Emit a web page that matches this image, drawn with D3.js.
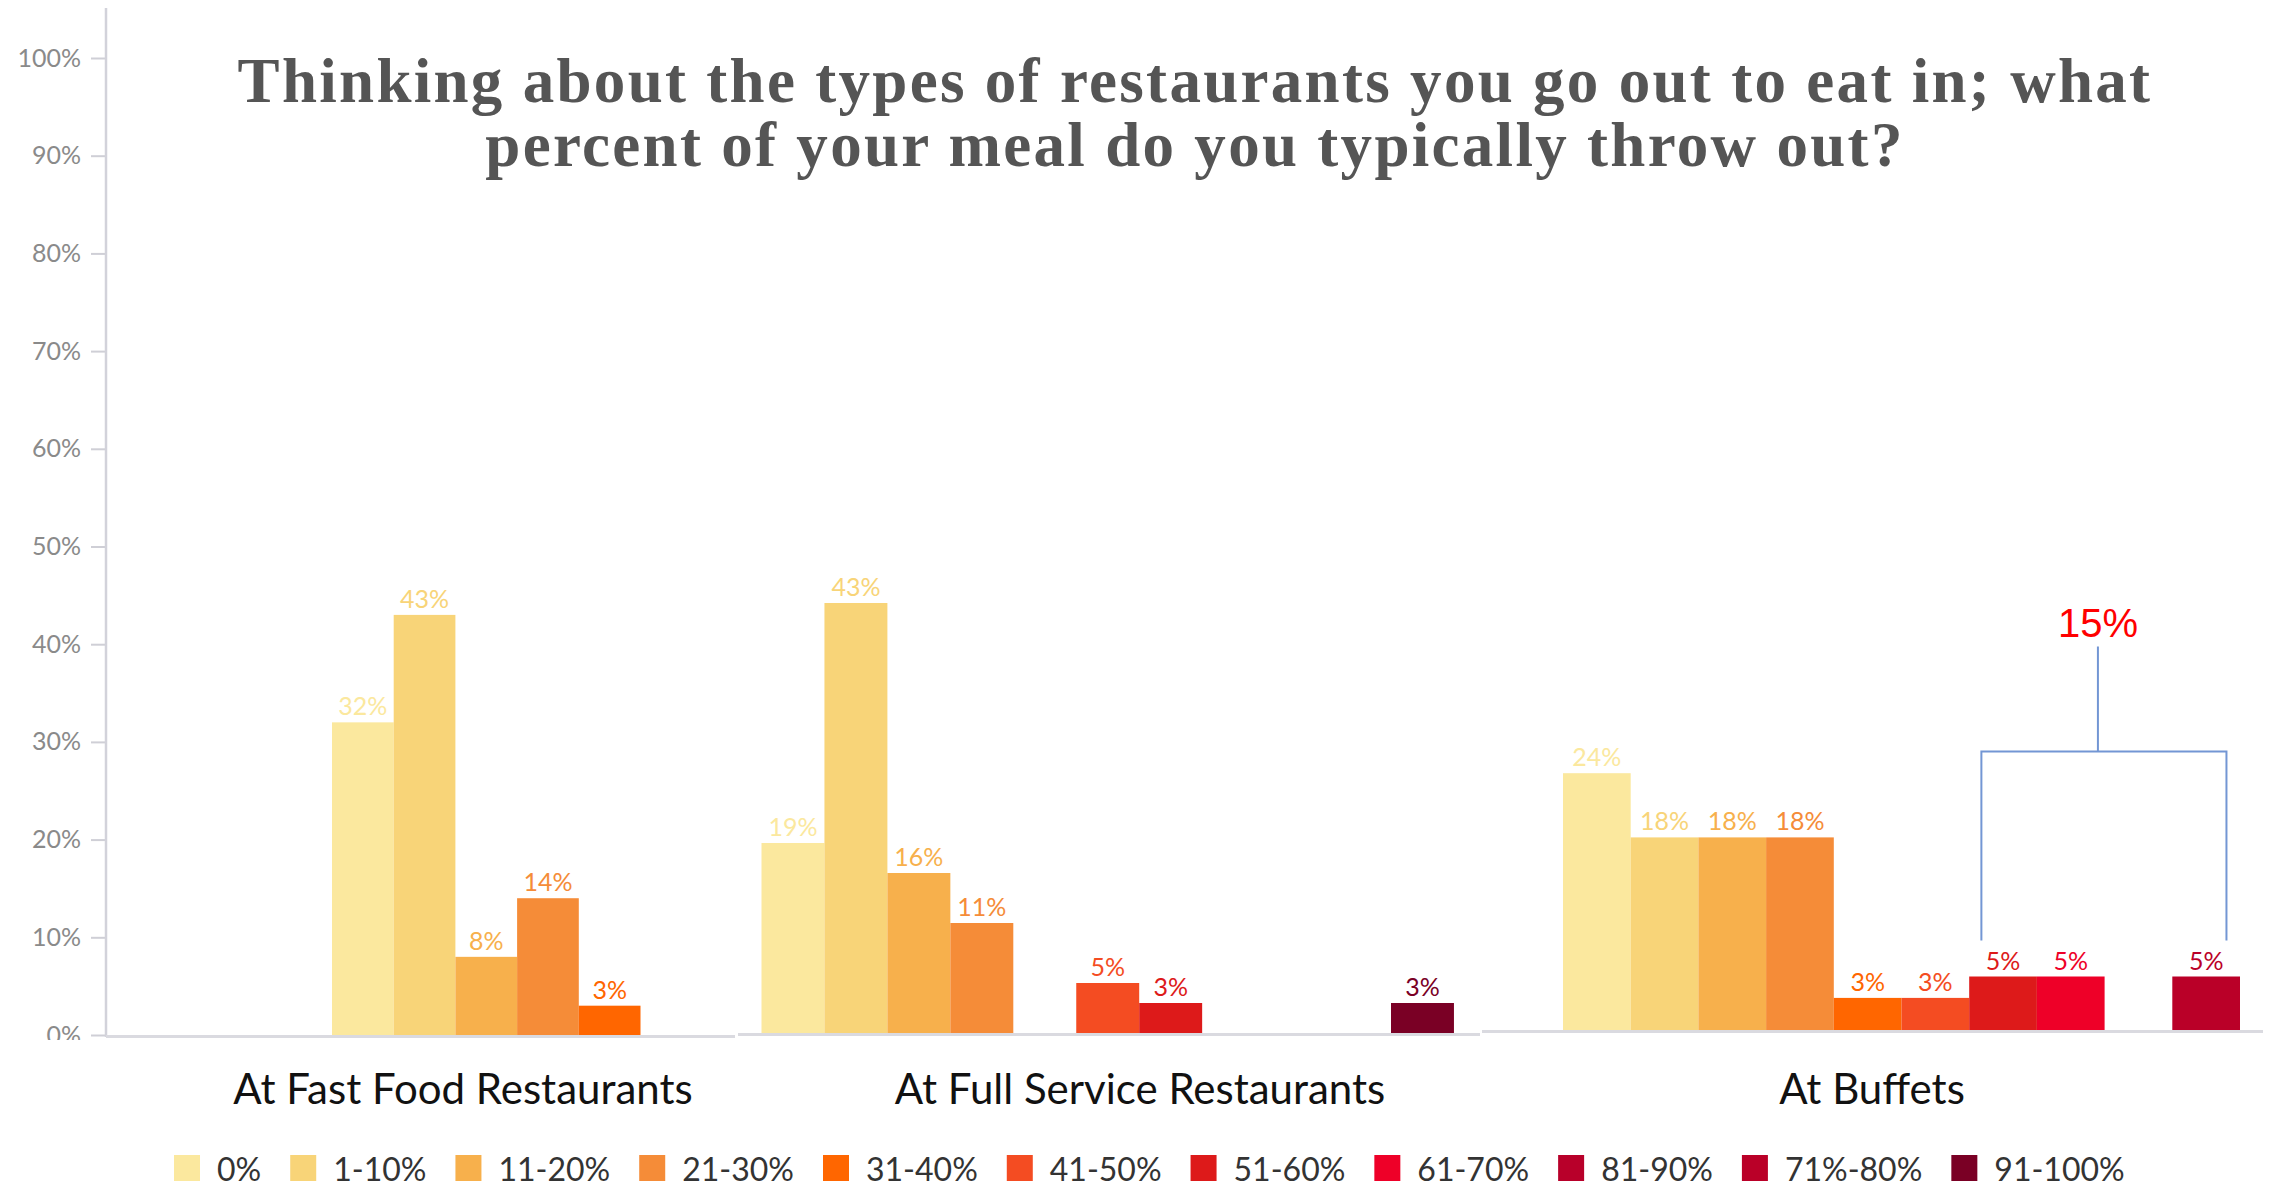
<!DOCTYPE html>
<html>
<head>
<meta charset="utf-8">
<script src="https://cdn.jsdelivr.net/npm/d3@7"></script>
<style>
  html, body { margin: 0; padding: 0; background: #fff; }
  svg { display: block; }
</style>
</head>
<body>
<svg id="chart" width="2270" height="1187"></svg>
<script>
// Survey: share of a restaurant meal that is typically thrown out
const titleLines = [
  "Thinking about the types of restaurants you go out to eat in; what",
  "percent of your meal do you typically throw out?"
];
const categories = ["At Fast Food Restaurants", "At Full Service Restaurants", "At Buffets"];
const series = ["0%", "1-10%", "11-20%", "21-30%", "31-40%", "41-50%", "51-60%", "61-70%", "81-90%", "71%-80%", "91-100%"];
const seriesColors = ["#FBE89E", "#F8D478", "#F7B04C", "#F58C38", "#FF6600", "#F44C22", "#DD1A1A", "#EE0028", "#B8002A", "#BA0028", "#7A0025"];
const fastFood    = [32, 43,  8, 14, 3, 0, 0, 0, 0, 0, 0];
const fullService = [19, 43, 16, 11, 0, 5, 3, 0, 0, 0, 3];
const buffets     = [24, 18, 18, 18, 3, 3, 5, 5, 0, 5, 0];
const yTicks = [0, 10, 20, 30, 40, 50, 60, 70, 80, 90, 100];
// Buffet answers bracketed together in the callout
const highlighted = ["51-60%", "61-70%", "71%-80%"];

const values = [fastFood, fullService, buffets];

// Each restaurant type sits in its own panel with its own baseline and band layout
const panels = [
  { x0: 332,   step: 61.7,  base: 1035, top: 58,  line: [106, 735],   labelX: 463 },
  { x0: 761.5, step: 62.95, base: 1033, top: 33,  line: [738, 1480],  labelX: 1140 },
  { x0: 1563,  step: 67.7,  base: 1030, top: -40, line: [1482, 2263], labelX: 1872 }
];

const svg = d3.select("#chart");
const sansFont = "Lato, 'Open Sans', sans-serif";
const color = d3.scaleOrdinal().domain(series).range(seriesColors);

// Title
svg.append("g")
  .selectAll("text")
  .data(titleLines)
  .join("text")
  .attr("x", 1195)
  .attr("y", (d, i) => 102 + i * 64)
  .attr("text-anchor", "middle")
  .attr("font-family", "'Liberation Serif', 'Times New Roman', serif")
  .attr("font-weight", "bold")
  .attr("font-size", 63)
  .attr("letter-spacing", 2.3)
  .attr("fill", "#555")
  .text(d => d);

// Y axis (shared with the first panel's scale); the bottom label is cut at the baseline
const yAxisScale = d3.scaleLinear().domain([0, 100]).range([panels[0].base, panels[0].top]);
svg.append("defs").append("clipPath").attr("id", "axisClip")
  .append("rect").attr("x", -120).attr("y", 0).attr("width", 130).attr("height", 1040);

const yAxisG = svg.append("g")
  .attr("transform", "translate(106,0)")
  .attr("clip-path", "url(#axisClip)")
  .call(d3.axisLeft(yAxisScale).tickValues(yTicks).tickFormat(d => d + "%").tickSize(15).tickPadding(10).tickSizeOuter(0));
yAxisG.select(".domain").remove();
yAxisG.selectAll(".tick line").attr("stroke", "#cfcfd6").attr("stroke-width", 2);
yAxisG.selectAll(".tick text")
  .attr("font-family", sansFont)
  .attr("font-size", 25)
  .attr("fill", "#8a8a8a");
svg.append("line")
  .attr("x1", 106).attr("x2", 106)
  .attr("y1", 8).attr("y2", 1037)
  .attr("stroke", "#d2d2da").attr("stroke-width", 2.5);

// Panels
panels.forEach((p, pi) => {
  const x = d3.scaleBand().domain(series).range([p.x0, p.x0 + series.length * p.step]).padding(0);
  const y = d3.scaleLinear().domain([0, 100]).range([p.base, p.top]);
  p.x = x; p.y = y;

  const g = svg.append("g");
  const rows = series.map((s, i) => ({ s, v: values[pi][i] })).filter(d => d.v > 0);

  g.selectAll("rect")
    .data(rows)
    .join("rect")
    .attr("x", d => x(d.s))
    .attr("width", x.bandwidth())
    .attr("y", d => y(d.v))
    .attr("height", d => y(0) - y(d.v))
    .attr("fill", d => color(d.s));

  g.selectAll("text.value")
    .data(rows)
    .join("text")
    .attr("class", "value")
    .attr("x", d => x(d.s) + x.bandwidth() / 2)
    .attr("y", d => y(d.v) - 7)
    .attr("text-anchor", "middle")
    .attr("font-family", sansFont)
    .attr("font-size", 25)
    .attr("fill", d => color(d.s))
    .text(d => d.v + "%");

  // baseline of the panel
  g.append("line")
    .attr("x1", p.line[0]).attr("x2", p.line[1])
    .attr("y1", p.base + 1.5).attr("y2", p.base + 1.5)
    .attr("stroke", "#dadae0").attr("stroke-width", 3);

  // category label
  g.append("text")
    .attr("x", p.labelX)
    .attr("y", 1104)
    .attr("text-anchor", "middle")
    .attr("font-family", sansFont)
    .attr("font-size", 42)
    .attr("fill", "#111")
    .text(categories[pi]);
});

// Callout bracket over the buffet answers
(function () {
  const p = panels[2];
  const idx = highlighted.map(s => series.indexOf(s));
  const total = d3.sum(idx, i => buffets[i]);
  const first = highlighted[0], last = highlighted[highlighted.length - 1];
  const left = p.x(first) + p.x.bandwidth() * 0.18;
  const right = p.x(last) + p.x.bandwidth() * 0.8;
  const legBottom = p.y(d3.max(idx, i => buffets[i])) - 36;
  const barY = legBottom - 189;
  const mid = (left + right) / 2 - 6;
  const stemTop = barY - 105;
  const stroke = "#7396D4";
  const bg = svg.append("g").attr("fill", "none").attr("stroke", stroke).attr("stroke-width", 2);
  bg.append("path")
    .attr("d", `M${left},${legBottom} V${barY} H${right} V${legBottom}`);
  bg.append("line").attr("x1", mid).attr("x2", mid).attr("y1", barY).attr("y2", stemTop);
  svg.append("text")
    .attr("x", mid)
    .attr("y", stemTop - 10)
    .attr("text-anchor", "middle")
    .attr("font-family", "'Liberation Sans', Arial, sans-serif")
    .attr("font-size", 40)
    .attr("fill", "#FF0000")
    .text(total + "%");
})();

// Legend
const legend = svg.append("g");
let lx = 174;
series.forEach((s, i) => {
  const item = legend.append("g");
  item.append("rect")
    .attr("x", lx).attr("y", 1155)
    .attr("width", 26).attr("height", 26)
    .attr("fill", color(s));
  const t = item.append("text")
    .attr("x", lx + 43)
    .attr("y", 1181)
    .attr("font-family", sansFont)
    .attr("font-size", 32)
    .attr("fill", "#333")
    .text(s);
  lx += 43 + t.node().getComputedTextLength() + 29;
});
</script>
</body>
</html>
